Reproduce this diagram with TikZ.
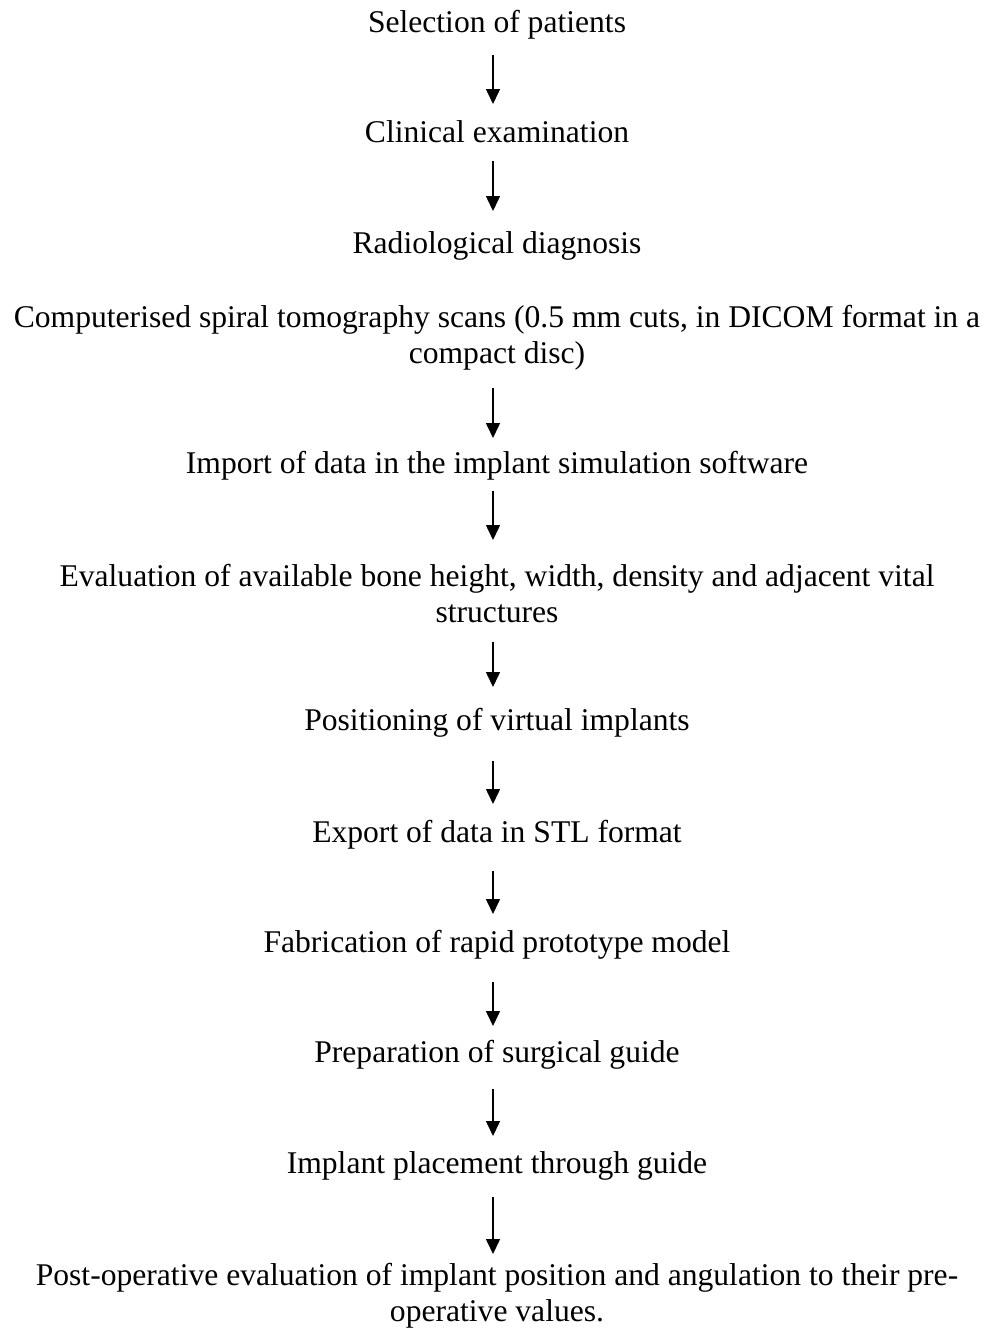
\documentclass[tikz,border=0pt]{standalone}
\usepackage{fontspec}
\setmainfont{Liberation Serif}
\usetikzlibrary{arrows.meta,calc}
\tikzset{
  stepnode/.style={anchor=base, inner sep=0pt, align=center, font=\fontsize{31.6}{36}\selectfont},
  flowarrow/.style={line width=1.5pt, -{Triangle[length=15pt,width=14pt]}}
}
\begin{document}
\begin{tikzpicture}[x=1pt,y=-1pt]
\useasboundingbox[fill=white] (0,0) rectangle (994,1328);
\coordinate (ax) at (493,0);
\node[stepnode] (n1) at (497,32) {Selection of patients};
\node[stepnode] (n2) at (497,142) {Clinical examination};
\node[stepnode] (n3) at (497,253) {Radiological diagnosis};
\node[stepnode] (n4) at (497,363) {Computerised spiral tomography scans (0.5 mm cuts, in DICOM format in a\\compact disc)};
\node[stepnode] (n5) at (497,473) {Import of data in the implant simulation software};
\node[stepnode] (n6) at (497,622) {Evaluation of available bone height, width, density and adjacent vital\\structures};
\node[stepnode] (n7) at (497,730) {Positioning of virtual implants};
\node[stepnode] (n8) at (497,842) {Export of data in STL format};
\node[stepnode] (n9) at (497,952) {Fabrication of rapid prototype model};
\node[stepnode] (n10) at (497,1062) {Preparation of surgical guide};
\node[stepnode] (n11) at (497,1173) {Implant placement through guide};
\node[stepnode] (n12) at (497,1321) {Post-operative evaluation of implant position and angulation to their pre-\\operative values.};
\draw[flowarrow] ($(n1.base -| ax)+(0,23)$) -- ($(n2.base -| ax)+(0,-38)$);
\draw[flowarrow] ($(n2.base -| ax)+(0,19)$) -- ($(n3.base -| ax)+(0,-42)$);
\draw[flowarrow] ($(n4.base -| ax)+(0,25)$) -- ($(n5.base -| ax)+(0,-35)$);
\draw[flowarrow] ($(n5.base -| ax)+(0,18)$) -- ($(n6.base -| ax)+(0,-82)$);
\draw[flowarrow] ($(n6.base -| ax)+(0,20)$) -- ($(n7.base -| ax)+(0,-43)$);
\draw[flowarrow] ($(n7.base -| ax)+(0,31)$) -- ($(n8.base -| ax)+(0,-38)$);
\draw[flowarrow] ($(n8.base -| ax)+(0,29)$) -- ($(n9.base -| ax)+(0,-38)$);
\draw[flowarrow] ($(n9.base -| ax)+(0,30)$) -- ($(n10.base -| ax)+(0,-36)$);
\draw[flowarrow] ($(n10.base -| ax)+(0,27)$) -- ($(n11.base -| ax)+(0,-37)$);
\draw[flowarrow] ($(n11.base -| ax)+(0,24)$) -- ($(n12.base -| ax)+(0,-67)$);
\end{tikzpicture}
\end{document}
